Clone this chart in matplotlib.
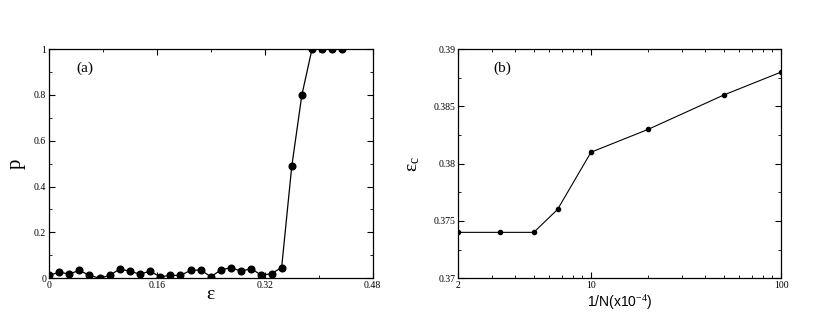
import matplotlib
matplotlib.use("Agg")
import matplotlib.pyplot as plt
from matplotlib.ticker import MultipleLocator, NullFormatter, LogLocator

# ------------------------------------------------- Data -------------------------------------------------

eps = [0.000, 0.015, 0.030, 0.045, 0.060, 0.075, 0.090, 0.105, 0.120, 0.135,
       0.150, 0.165, 0.180, 0.195, 0.210, 0.225, 0.240, 0.255, 0.270, 0.285,
       0.300, 0.315, 0.330, 0.345, 0.360, 0.375, 0.390, 0.405, 0.420, 0.435]
p_vals = [0.012, 0.026, 0.018, 0.034, 0.012, 0.000, 0.012, 0.040, 0.030, 0.018,
          0.030, 0.006, 0.012, 0.012, 0.034, 0.036, 0.006, 0.036, 0.046, 0.030,
          0.042, 0.012, 0.020, 0.046, 0.488, 0.800, 1.000, 1.000, 1.000, 1.000]

inv_n = [2, 3.333, 5, 6.667, 10, 20, 50, 100]
eps_c = [0.374, 0.374, 0.374, 0.376, 0.381, 0.383, 0.386, 0.388]

a_xticks = [0, 0.16, 0.32, 0.48]
a_xlabels = ["0", "0.16", "0.32", "0.48"]
a_yticks = [0, 0.2, 0.4, 0.6, 0.8, 1.0]
a_ylabels = ["0", "0.2", "0.4", "0.6", "0.8", "1"]

b_xticks = [2, 10, 100]
b_xlabels = ["2", "10", "100"]
b_yticks = [0.37, 0.375, 0.38, 0.385, 0.39]
b_ylabels = ["0.37", "0.375", "0.38", "0.385", "0.39"]

# ------------------------------------------------- Styling -------------------------------------------------

plt.rcParams.update({
    "font.family": ["Liberation Serif", "DejaVu Serif"],
    "mathtext.fontset": "custom",
    "mathtext.rm": "Liberation Serif",
    "mathtext.it": "Liberation Serif:italic",
    "xtick.direction": "in",
    "ytick.direction": "in",
    "xtick.top": True,
    "ytick.right": True,
    "xtick.labelsize": 7,
    "ytick.labelsize": 7,
    "xtick.major.size": 4,
    "ytick.major.size": 4,
    "xtick.minor.size": 2.5,
    "ytick.minor.size": 2.5,
    "axes.linewidth": 0.9,
})

fig = plt.figure(figsize=(8.3, 3.28), dpi=100)

# ------------------------------------------------- Panel (a) -------------------------------------------------

ax1 = fig.add_axes([0.059, 0.152, 0.390, 0.698])
ax1.plot(eps, p_vals, color="black", lw=0.9, marker="o", markersize=4.8)
ax1.set_xticks(a_xticks, labels=a_xlabels)
ax1.set_yticks(a_yticks, labels=a_ylabels)
ax1.xaxis.set_minor_locator(MultipleLocator(0.08))
ax1.yaxis.set_minor_locator(MultipleLocator(0.1))
ax1.set_xlim(0, 0.48)
ax1.set_ylim(0, 1)
ax1.tick_params(axis="both", pad=2)
ax1.set_xlabel("ε", fontsize=14, labelpad=-3)
ax1.set_ylabel("p", fontsize=15, labelpad=6)
ax1.text(0.085, 0.9, "(a)", transform=ax1.transAxes, fontsize=11)

# ------------------------------------------------- Panel (b) -------------------------------------------------

ax2 = fig.add_axes([0.552, 0.152, 0.389, 0.698])
ax2.plot(inv_n, eps_c, color="black", lw=0.8, marker="o", markersize=3)
ax2.set_xscale("log")
ax2.set_xticks(b_xticks, labels=b_xlabels)
ax2.xaxis.set_minor_locator(LogLocator(base=10, subs=range(2, 10)))
ax2.xaxis.set_minor_formatter(NullFormatter())
ax2.set_yticks(b_yticks, labels=b_ylabels)
ax2.yaxis.set_minor_locator(MultipleLocator(0.0025))
ax2.set_xlim(2, 100)
ax2.set_ylim(0.37, 0.39)
ax2.tick_params(axis="both", pad=2)
ax2.set_xlabel(r"1/N(x10$^{-4}$)", fontsize=10, labelpad=2,
               family=["Liberation Sans", "DejaVu Sans"])
ax2.set_ylabel(r"$\mathrm{ε}_\mathrm{c}$", fontsize=14, labelpad=8)
ax2.text(0.11, 0.9, "(b)", transform=ax2.transAxes, fontsize=11)

fig.savefig("out.png", dpi=100)
